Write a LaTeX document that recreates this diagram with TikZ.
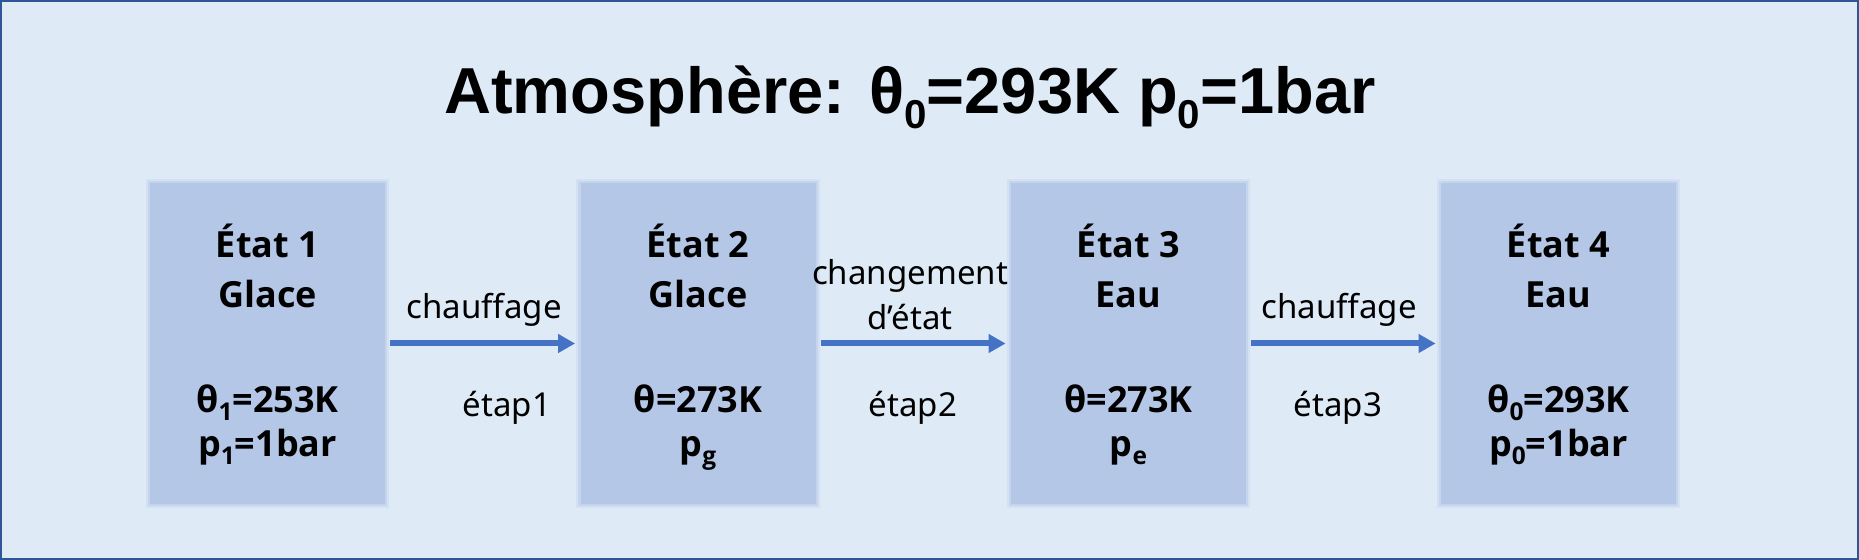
\documentclass[tikz,border=0pt]{standalone}
\usepackage{fontspec}
\setmainfont{Noto Sans}
\newfontfamily\titlefont{Liberation Sans}
\newfontfamily\boxfont{Open Sans}
\usetikzlibrary{arrows.meta}
\definecolor{bgc}{HTML}{DEEBF7}
\definecolor{boxc}{HTML}{B4C7E7}
\definecolor{bordc}{HTML}{2F5597}
\definecolor{arrc}{HTML}{4472C4}
\newcommand{\lsub}[1]{\raisebox{-0.2em}{\scalebox{0.68}{#1}}}
\newcommand{\tsub}[1]{\raisebox{-0.22em}{\scalebox{0.62}{#1}}}
\begin{document}
\begin{tikzpicture}[x=0.5pt,y=-0.5pt,
  stbox/.style={minimum width=117.5pt, minimum height=160.5pt, inner sep=0pt, fill=boxc},
  halo/.style={fill=boxc, opacity=#1},
  bt/.style={anchor=base, inner sep=0pt, font=\boxfont\bfseries\fontsize{18}{22}\selectfont},
  lab/.style={anchor=base, inner sep=0pt, font=\fontsize{16.5}{20}\selectfont},
  arr/.style={draw=arrc, line width=3pt, shorten <=2.5pt, shorten >=2.5pt,
    -{Triangle[length=8.5pt,width=9pt]}}]
\useasboundingbox (0,0) rectangle (1859,560);
\fill[bgc] (0,0) rectangle (1859,560);
\draw[bordc, line width=1pt] (1,1) rectangle (1858,559);
% title
\node[anchor=base, inner sep=0pt, font=\titlefont\bfseries\fontsize{32.5}{38}\selectfont] (title) at (910,114)
  {Atmosphère: θ\tsub{0}=293K p\tsub{0}=1bar};
% boxes
\foreach \i/\x/\na/\nb/\nc/\nd in {
  1/267.5/{État 1}/{Glace}/{θ\lsub{1}=253K}/{p\lsub{1}=1bar},
  2/698/{État 2}/{Glace}/{θ=273K}/{p\lsub{g}},
  3/1128.5/{État 3}/{Eau}/{θ=273K}/{p\lsub{e}},
  4/1558.5/{État 4}/{Eau}/{θ\lsub{0}=293K}/{p\lsub{0}=1bar}}{
  \node[stbox] (b\i) at (\x,343.5) {};
  \fill[halo=0.25] ([shift={(-4,-4)}]b\i.north west) rectangle ([shift={(4,4)}]b\i.south east);
  \fill[halo=0.45] ([shift={(-2,-2)}]b\i.north west) rectangle ([shift={(2,2)}]b\i.south east);
  \node[bt] (ta\i) at (\x,258) {\na};
  \node[bt] (tb\i) at (\x,308) {\nb};
  \node[bt] (tc\i) at (\x,413) {\nc};
  \node[bt] (td\i) at (\x,457) {\nd};
}
% arrows
\draw[arr] (b1.east) -- (b2.west);
\draw[arr] (b2.east) -- (b3.west);
\draw[arr] (b3.east) -- (b4.west);
% labels
\node[lab] (l1) at (484,319) {chauffage};
\node[lab] (e1) at (507,417) {étap1};
\node[lab] (l2a) at (910,285) {changement};
\node[lab] (l2b) at (910,330) {d’état};
\node[lab] (e2) at (913,417) {étap2};
\node[lab] (l3) at (1339,319) {chauffage};
\node[lab] (e3) at (1338,417) {étap3};
\end{tikzpicture}
\end{document}
